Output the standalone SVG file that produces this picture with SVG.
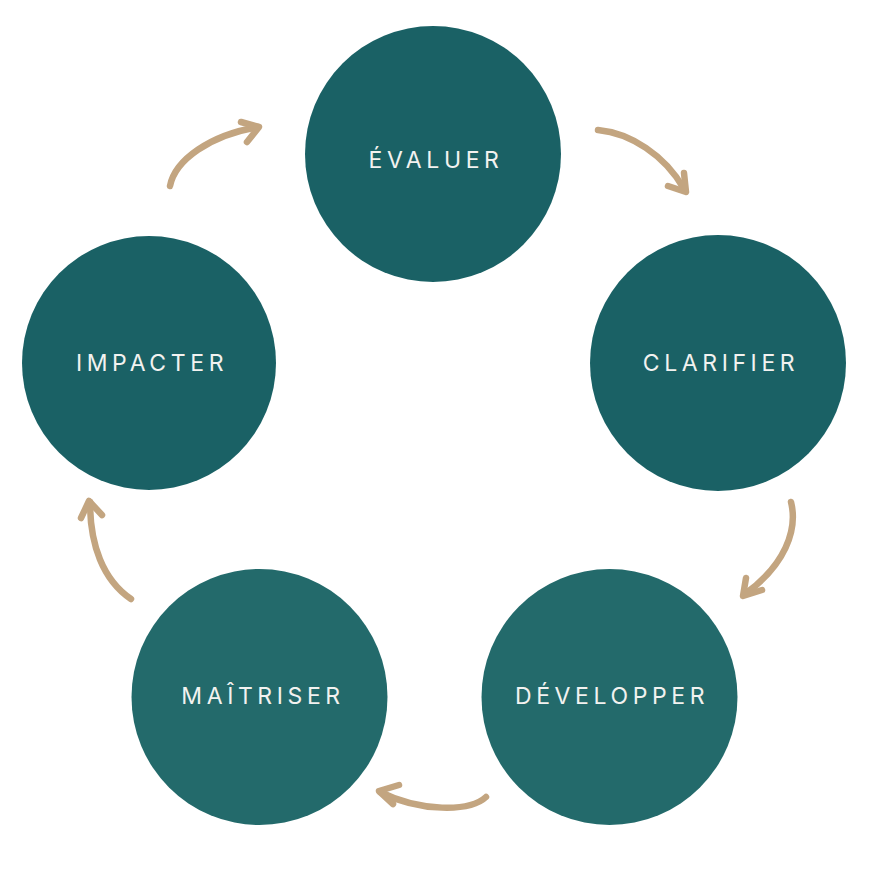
<svg xmlns="http://www.w3.org/2000/svg" width="875" height="875" viewBox="0 0 875 875">
<style>
.n1{fill:#1a6165}
.n2{fill:#236a6b}
.t{font-family:Inter,"Open Sans","Liberation Sans",sans-serif;font-size:23px;letter-spacing:4.6px;fill:#f2f2f0;text-anchor:middle}
.a{fill:none;stroke:#c3a580;stroke-width:6.5;stroke-linecap:round;stroke-linejoin:round}
</style>
<rect width="875" height="875" fill="#ffffff"/>
<g id="connectors">
<g id="c1"><path class="a" d="M598,130 C630,133 665,155 684,189"/><path class="a" d="M668,186 L686,192 L684,173"/></g>
<g id="c2"><path class="a" d="M791,502 C798,530 785,565 745,594"/><path class="a" d="M746,578 L743,596 L762,590"/></g>
<g id="c3"><path class="a" d="M486,797 C470,812 420,812 380,792"/><path class="a" d="M399,785 L379,791 L393,804"/></g>
<g id="c4"><path class="a" d="M131,599 C103,580 90,545 90,502"/><path class="a" d="M81,518 L89,501 L102,515"/></g>
<g id="c5"><path class="a" d="M170,186 C175,160 210,135 258,127"/><path class="a" d="M241,122 L259,127 L247,142"/></g>
</g>
<g id="evaluer"><circle class="n1" cx="433" cy="154" r="128"/><text class="t" x="436" y="168">ÉVALUER</text></g>
<g id="clarifier"><circle class="n1" cx="718" cy="363" r="128"/><text class="t" x="721" y="371">CLARIFIER</text></g>
<g id="developper"><circle class="n2" cx="609.5" cy="697" r="128"/><text class="t" x="612" y="704">DÉVELOPPER</text></g>
<g id="maitriser"><circle class="n2" cx="259.5" cy="697" r="128"/><text class="t" x="263" y="704">MAÎTRISER</text></g>
<g id="impacter"><circle class="n1" cx="149" cy="363" r="127"/><text class="t" x="152" y="371">IMPACTER</text></g>
</svg>
